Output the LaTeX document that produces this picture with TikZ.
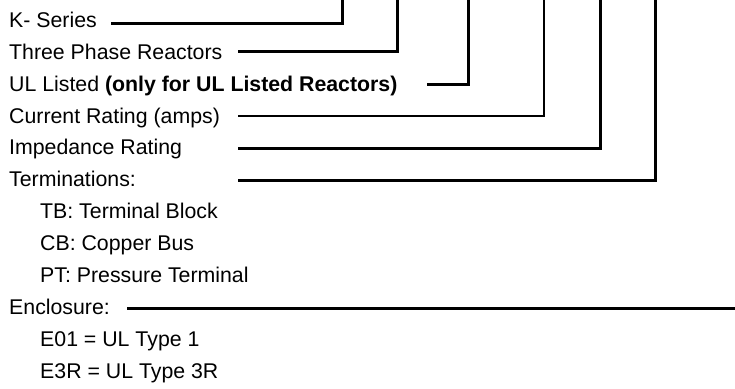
\documentclass[tikz,border=0pt]{standalone}
\usepackage{fontspec}
\setmainfont{Liberation Sans}
\begin{document}
\begin{tikzpicture}[x=1pt,y=-1pt,
  lbl/.style={anchor=base west,inner sep=0pt,font=\fontsize{21.3}{24}\selectfont},
  lead/.style={line width=3pt,line join=miter},
  leadthin/.style={line width=2pt,line join=miter}]
\useasboundingbox (0,0) rectangle (735,388);
% labels
\node[lbl] (ks) at (9,27.3) {K- Series};
\node[lbl] (tp) at (9,59.2) {Three Phase Reactors};
\node[lbl] (ul) at (9,91.1) {UL Listed \textbf{(only for UL Listed Reactors)}};
\node[lbl] (cr) at (9,123) {Current Rating (amps)};
\node[lbl] (ir) at (9,154.9) {Impedance Rating};
\node[lbl] (tm) at (9,186.8) {Terminations:};
\node[lbl] (tb) at (40,218.7) {TB: Terminal Block};
\node[lbl] (cb) at (40,250.6) {CB: Copper Bus};
\node[lbl] (pt) at (40,282.5) {PT: Pressure Terminal};
\node[lbl] (en) at (9,314.4) {Enclosure:};
\node[lbl] (e1) at (40,346.3) {E01 = UL Type 1};
\node[lbl] (e3) at (40,378.2) {E3R = UL Type 3R};
% connector points
\coordinate (ksA) at (111,23);  \coordinate (ksB) at (342,23);  \coordinate (ksT) at (342,-2);
\coordinate (tpA) at (238,51);  \coordinate (tpB) at (397,51);  \coordinate (tpT) at (397,-2);
\coordinate (ulA) at (427,84);  \coordinate (ulB) at (468,84);  \coordinate (ulT) at (468,-2);
\coordinate (crA) at (238,116); \coordinate (crB) at (544,116); \coordinate (crT) at (544,-2);
\coordinate (irA) at (238,148); \coordinate (irB) at (600,148); \coordinate (irT) at (600,-2);
\coordinate (tmA) at (238,180); \coordinate (tmB) at (655,180); \coordinate (tmT) at (655,-2);
\coordinate (enA) at (127,308); \coordinate (enB) at (737,308);
% connectors
\draw[lead] (ksA) -- (ksB) -- (ksT);
\draw[lead] (tpA) -- (tpB) -- (tpT);
\draw[lead] (ulA) -- (ulB) -- (ulT);
\draw[leadthin] (crA) -- (crB) -- (crT);
\draw[lead] (irA) -- (irB) -- (irT);
\draw[lead] (tmA) -- (tmB) -- (tmT);
\draw[lead] (enA) -- (enB);
\end{tikzpicture}
\end{document}
